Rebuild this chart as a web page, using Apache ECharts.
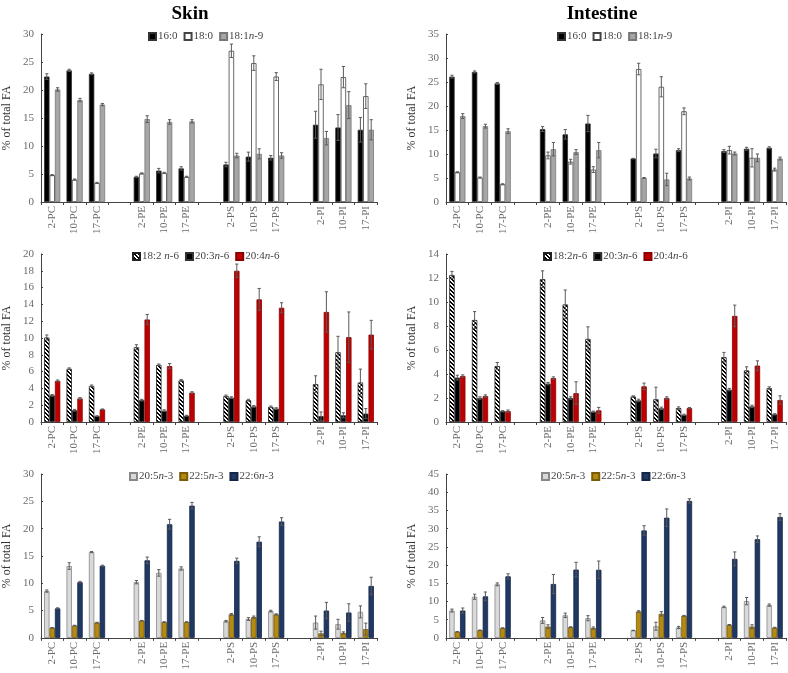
<!DOCTYPE html>
<html>
<head>
<meta charset="utf-8">
<script src="https://cdn.jsdelivr.net/npm/echarts@6/dist/echarts.min.js"></script>
<style>
html,body{margin:0;padding:0;background:#fff;}
#chart{width:788px;height:673px;}
</style>
</head>
<body>
<div id="chart"></div>
<script>
// ---- categories (blank slots are the gaps between lipid classes) ----
var categories = ['2-PC','10-PC','17-PC','','2-PE','10-PE','17-PE','','2-PS','10-PS','17-PS','','2-PI','10-PI','17-PI'];
var panelTitles = ['Skin', 'Intestine'];
var yAxisName = '% of total FA';

// ---- Skin, row 1 ----
var skin_16_0      = [22.4,23.5,22.9, 4.5,5.6,6.0, 6.7,8.1,7.9, 13.8,13.3,12.9];
var skin_16_0_err  = [0.5,0.2,0.15, 0.1,0.4,0.3, 0.4,0.8,0.4, 2.4,2.3,2.2];
var skin_18_0      = [4.8,4.0,3.4, 5.1,5.2,4.5, 27.0,24.8,22.4, 21.0,22.3,18.9];
var skin_18_0_err  = [0.1,0.1,0.1, 0.1,0.1,0.1, 1.2,1.3,0.7, 2.7,1.9,2.2];
var skin_18_1      = [20.1,18.2,17.4, 14.8,14.3,14.4, 8.3,8.6,8.3, 11.4,17.3,12.9];
var skin_18_1_err  = [0.3,0.3,0.2, 0.6,0.4,0.3, 0.4,0.9,0.5, 1.2,2.4,1.8];

// ---- Intestine, row 1 ----
var int_16_0       = [26.1,27.1,24.7, 15.2,14.1,16.35, 9.05,10.1,10.8, 10.6,11.1,11.3];
var int_16_0_err   = [0.3,0.2,0.2, 0.5,1.0,1.7, 0.05,0.9,0.3, 0.3,0.3,0.2];
var int_18_0       = [6.2,5.1,3.7, 9.7,8.4,6.75, 27.7,24.0,18.9, 10.8,9.2,6.75];
var int_18_0_err   = [0.1,0.1,0.1, 0.7,0.5,0.6, 1.2,2.1,0.7, 0.8,1.9,0.3];
var int_18_1       = [17.9,15.8,14.75, 11.0,10.4,10.8, 5.0,4.7,4.9, 10.1,9.2,9.05];
var int_18_1_err   = [0.5,0.4,0.5, 1.4,0.5,1.6, 0.1,1.3,0.3, 0.3,0.8,0.3];

// ---- Skin, row 2 ----
var skin_18_2      = [10.06,6.34,4.3, 8.9,6.8,4.95, 3.1,2.6,1.8, 4.5,8.3,4.7];
var skin_18_2_err  = [0.3,0.1,0.1, 0.3,0.1,0.1, 0.1,0.1,0.1, 1.0,1.9,1.6];
var skin_20_3      = [3.17,1.4,0.7, 2.6,1.35,0.75, 2.9,1.85,1.6, 0.7,0.8,1.0];
var skin_20_3_err  = [0.1,0.1,0.05, 0.1,0.1,0.05, 0.1,0.1,0.1, 0.5,0.3,0.6];
var skin_20_4      = [4.9,2.8,1.5, 12.2,6.65,3.5, 18.0,14.6,13.6, 13.1,10.1,10.4];
var skin_20_4_err  = [0.1,0.1,0.05, 0.6,0.3,0.1, 0.8,1.3,0.6, 2.4,3.0,1.7];

// ---- Intestine, row 2 ----
var int_18_2       = [12.25,8.5,4.66, 11.9,9.8,6.93, 2.13,1.9,1.16, 5.4,4.3,2.83];
var int_18_2_err   = [0.3,0.7,0.3, 0.7,1.2,1.0, 0.05,1.0,0.1, 0.4,0.3,0.1];
var int_20_3       = [3.7,2.0,0.9, 3.2,2.0,0.86, 1.8,1.14,0.6, 2.7,1.3,0.64];
var int_20_3_err   = [0.2,0.1,0.05, 0.1,0.1,0.05, 0.1,0.1,0.05, 0.1,0.1,0.05];
var int_20_4       = [3.83,2.16,0.9, 3.66,2.4,0.97, 2.97,2.0,1.16, 8.84,4.7,1.83];
var int_20_4_err   = [0.1,0.1,0.1, 0.1,0.95,0.25, 0.27,0.1,0.05, 0.9,0.4,0.35];

// ---- Skin, row 3 ----
var skin_20_5      = [8.57,13.15,15.7, 10.2,11.9,12.7, 3.05,3.45,4.9, 2.8,2.5,4.76];
var skin_20_5_err  = [0.2,0.6,0.1, 0.3,0.6,0.3, 0.15,0.25,0.15, 1.2,0.9,1.1];
var skin_22_5      = [1.85,2.26,2.8, 3.15,2.9,2.9, 4.3,3.8,4.3, 0.83,0.9,1.6];
var skin_22_5_err  = [0.05,0.05,0.05, 0.05,0.05,0.05, 0.15,0.2,0.1, 0.4,0.2,1.1];
var skin_22_6      = [5.4,10.2,13.2, 14.2,20.8,24.2, 14.1,17.6,21.3, 5.0,4.64,9.5];
var skin_22_6_err  = [0.1,0.15,0.1, 0.6,0.9,0.6, 0.5,0.9,0.7, 1.5,1.6,1.6];

// ---- Intestine, row 3 ----
var int_20_5       = [7.5,11.3,14.7, 4.8,6.2,5.4, 2.05,3.2,2.86, 8.5,10.1,9.0];
var int_20_5_err   = [0.4,0.7,0.4, 0.8,0.6,0.7, 0.05,1.1,0.3, 0.2,1.0,0.3];
var int_22_5       = [1.7,2.1,2.7, 3.1,2.95,2.7, 7.25,6.6,6.07, 3.57,3.1,2.8];
var int_22_5_err   = [0.05,0.05,0.05, 0.5,0.1,0.3, 0.2,0.6,0.1, 0.1,0.5,0.1];
var int_22_6       = [7.5,11.4,16.9, 14.8,18.75,18.7, 29.5,33.0,37.6, 21.7,27.1,33.2];
var int_22_6_err   = [0.7,1.2,0.7, 2.6,2.0,2.4, 1.3,2.4,0.6, 1.9,0.9,0.9];

// ---- axis ranges ----
var yMax      = [30, 35, 20, 14, 30, 45];
var yInterval = [5, 5, 2, 2, 5, 5];

// ---------------------------------------------------------------
var FONT = '"Liberation Serif","Times New Roman",serif';

function makeHatch() {
  var c = document.createElement('canvas');
  c.width = 4; c.height = 4;
  var ctx = c.getContext('2d');
  ctx.fillStyle = '#fff'; ctx.fillRect(0,0,4,4);
  ctx.fillStyle = '#000';
  for (var x = 0; x < 4; x++) for (var y = 0; y < 4; y++) {
    if ((((x - y) % 4) + 4) % 4 < 2) ctx.fillRect(x, y, 1, 1);
  }
  return {image: c, repeat: 'repeat'};
}
var hatch = makeHatch();

var ST = {
  black: {color:'#000000', borderColor:'#333333'},
  white: {color:'#ffffff', borderColor:'#444444'},
  gray:  {color:'#a6a6a6', borderColor:'#777777'},
  hatch: {color:hatch,     borderColor:'#222222'},
  red:   {color:'#c00000', borderColor:'#8a0000'},
  light: {color:'#d9d9d9', borderColor:'#888888'},
  gold:  {color:'#b58a10', borderColor:'#7a5c08'},
  navy:  {color:'#1f3864', borderColor:'#142646'}
};

function pad(arr) {
  var out = [];
  for (var i = 0; i < arr.length; i++) {
    out.push(arr[i]);
    if (i % 3 === 2 && i < arr.length - 1) out.push('-');
  }
  return out;
}

var panels = [
  {grid:0, series:[
    {name:'16:0', v:skin_16_0, e:skin_16_0_err, s:ST.black},
    {name:'18:0', v:skin_18_0, e:skin_18_0_err, s:ST.white},
    {name:'18:1n-9', v:skin_18_1, e:skin_18_1_err, s:ST.gray}]},
  {grid:1, series:[
    {name:'16:0', v:int_16_0, e:int_16_0_err, s:ST.black},
    {name:'18:0', v:int_18_0, e:int_18_0_err, s:ST.white},
    {name:'18:1n-9', v:int_18_1, e:int_18_1_err, s:ST.gray}]},
  {grid:2, series:[
    {name:'18:2 n-6', v:skin_18_2, e:skin_18_2_err, s:ST.hatch},
    {name:'20:3n-6', v:skin_20_3, e:skin_20_3_err, s:ST.black},
    {name:'20:4n-6', v:skin_20_4, e:skin_20_4_err, s:ST.red}]},
  {grid:3, series:[
    {name:'18:2n-6', v:int_18_2, e:int_18_2_err, s:ST.hatch},
    {name:'20:3n-6', v:int_20_3, e:int_20_3_err, s:ST.black},
    {name:'20:4n-6', v:int_20_4, e:int_20_4_err, s:ST.red}]},
  {grid:4, series:[
    {name:'20:5n-3', v:skin_20_5, e:skin_20_5_err, s:ST.light},
    {name:'22:5n-3', v:skin_22_5, e:skin_22_5_err, s:ST.gold},
    {name:'22:6n-3', v:skin_22_6, e:skin_22_6_err, s:ST.navy}]},
  {grid:5, series:[
    {name:'20:5n-3', v:int_20_5, e:int_20_5_err, s:ST.light},
    {name:'22:5n-3', v:int_22_5, e:int_22_5_err, s:ST.gold},
    {name:'22:6n-3', v:int_22_6, e:int_22_6_err, s:ST.navy}]}
];

var BAR_W = 5.4;
var gridTops = [34, 254, 474];
var gridLefts = [37, 446];
var legendLefts = [[148, 557], [132, 543], [129, 541]];

var grids = [], xAxes = [], yAxes = [], legends = [], series = [];

panels.forEach(function (p) {
  var g = p.grid, row = Math.floor(g / 2), col = g % 2;
  grids.push({left: gridLefts[col], top: gridTops[row], width: 340, height: 168});
  xAxes.push({
    type: 'category', gridIndex: g, data: categories,
    axisLine: {lineStyle: {color: '#444', width: 1}},
    axisTick: {show: true, length: 3, lineStyle: {color: '#444'}},
    axisLabel: {rotate: 90, fontFamily: FONT, fontSize: 11, color: '#6a6a6a', margin: 4, interval: 0}
  });
  yAxes.push({
    type: 'value', gridIndex: g, min: 0, max: yMax[g], interval: yInterval[g],
    name: yAxisName, nameLocation: 'middle', nameGap: 28,
    nameTextStyle: {fontFamily: FONT, fontSize: 12, color: '#333'},
    axisLine: {show: true, lineStyle: {color: '#444', width: 1}},
    axisTick: {show: true, inside: true, length: 2, lineStyle: {color: '#444'}},
    axisLabel: {fontFamily: FONT, fontSize: 11, color: '#6a6a6a', margin: 7},
    splitLine: {show: false}
  });
  legends.push({
    left: legendLefts[row][col], top: gridTops[row] - 3, padding: 0,
    orient: 'horizontal', icon: 'rect', itemWidth: 7, itemHeight: 7, itemGap: 6,
    selectedMode: false,
    data: p.series.map(function (s) { return s.name; }),
    formatter: function (name) {
      var k = name.indexOf('n');
      if (k < 0) return name;
      return name.slice(0, k) + '{i|n}' + name.slice(k + 1);
    },
    textStyle: {fontFamily: FONT, fontSize: 11, color: '#444', padding: [0,0,0,-3],
      rich: {i: {fontFamily: FONT, fontSize: 11, fontStyle: 'italic', color: '#444'}}}
  });

  p.series.forEach(function (s, si) {
    series.push({
      type: 'bar', name: s.name, xAxisIndex: g, yAxisIndex: g,
      data: pad(s.v), barWidth: BAR_W, barGap: '0%',
      itemStyle: {color: s.s.color, borderColor: s.s.borderColor, borderWidth: 0.8},
      emphasis: {disabled: true}, silent: true, z: 2
    });
    var errData = s.v.map(function (v, i) { return [i + Math.floor(i / 3), v, s.e[i]]; });
    var offset = (si - 1) * BAR_W;
    series.push({
      type: 'custom', xAxisIndex: g, yAxisIndex: g, data: errData, z: 5, silent: true,
      renderItem: function (params, api) {
        var idx = api.value(0), v = api.value(1), e = api.value(2);
        var x = api.coord([idx, 0])[0] + offset;
        var yT = api.coord([idx, v + e])[1];
        var yB = api.coord([idx, Math.max(0, v - e)])[1];
        var st = {stroke: '#5a5a5a', lineWidth: 1};
        var cw = 1.6;
        return {type: 'group', children: [
          {type: 'line', shape: {x1: x, y1: yT, x2: x, y2: yB}, style: st},
          {type: 'line', shape: {x1: x - cw, y1: yT, x2: x + cw, y2: yT}, style: st},
          {type: 'line', shape: {x1: x - cw, y1: yB, x2: x + cw, y2: yB}, style: st}
        ]};
      }
    });
  });
});

var chart = echarts.init(document.getElementById('chart'), null, {renderer: 'canvas'});
chart.setOption({
  animation: false,
  backgroundColor: '#ffffff',
  title: [
    {text: panelTitles[0], left: 185, top: 0, textAlign: 'center',
     textStyle: {fontFamily: FONT, fontSize: 19, fontWeight: 'bold', color: '#000'}},
    {text: panelTitles[1], left: 597, top: 0, textAlign: 'center',
     textStyle: {fontFamily: FONT, fontSize: 19, fontWeight: 'bold', color: '#000'}}
  ],
  grid: grids, xAxis: xAxes, yAxis: yAxes, legend: legends, series: series
});
</script>
</body>
</html>
